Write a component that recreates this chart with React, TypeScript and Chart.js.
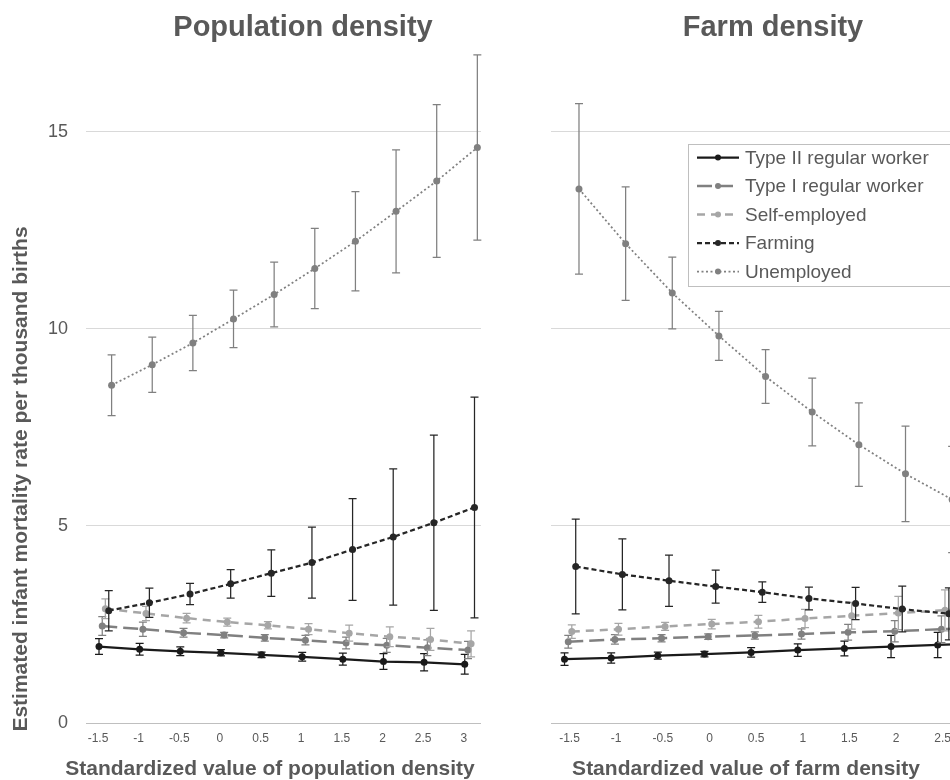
import React, { useEffect, useRef } from "react";
import { Chart, registerables } from "chart.js";

Chart.register(...registerables);

// ---------- data ----------
const xCategories = [-1.5, -1, -0.5, 0, 0.5, 1, 1.5, 2, 2.5, 3];
const xTickLabels = ["-1.5", "-1", "-0.5", "0", "0.5", "1", "1.5", "2", "2.5", "3"];
const yTickValues = [0, 5, 10, 15];
const yTickLabels = ["0", "5", "10", "15"];
const seriesNames = [
  "Type II regular worker",
  "Type I regular worker",
  "Self-employed",
  "Farming",
  "Unemployed",
];
// small horizontal shift of each series (as in the original figure)
const seriesShift = [0, 0.04, 0.078, 0.12, 0.155];

// Population density panel
const popTypeII = [1.94, 1.87, 1.82, 1.78, 1.73, 1.68, 1.62, 1.56, 1.54, 1.49];
const popTypeIIErr = [0.2, 0.15, 0.11, 0.08, 0.07, 0.11, 0.15, 0.2, 0.22, 0.25];
const popTypeI = [2.46, 2.38, 2.29, 2.23, 2.16, 2.1, 2.03, 1.97, 1.91, 1.85];
const popTypeIErr = [0.24, 0.18, 0.11, 0.07, 0.08, 0.12, 0.15, 0.18, 0.2, 0.22];
const popSelf = [2.9, 2.78, 2.66, 2.56, 2.48, 2.38, 2.28, 2.19, 2.12, 2.01];
const popSelfErr = [0.25, 0.18, 0.12, 0.1, 0.09, 0.14, 0.2, 0.25, 0.28, 0.33];
const popFarming = [2.85, 3.05, 3.27, 3.53, 3.8, 4.07, 4.4, 4.72, 5.08, 5.47];
const popFarmingErr = [0.51, 0.37, 0.27, 0.36, 0.59, 0.9, 1.29, 1.73, 2.22, 2.8];
const popUnemp = [8.57, 9.09, 9.64, 10.25, 10.87, 11.53, 12.22, 12.98, 13.75, 14.6];
const popUnempErr = [0.77, 0.7, 0.7, 0.73, 0.82, 1.02, 1.26, 1.56, 1.94, 2.35];

// Farm density panel
const farmTypeII = [1.62, 1.65, 1.71, 1.75, 1.79, 1.85, 1.89, 1.94, 1.98, 2.02];
const farmTypeIIErr = [0.16, 0.13, 0.09, 0.07, 0.12, 0.16, 0.19, 0.28, 0.32, 0.38];
const farmTypeI = [2.06, 2.12, 2.15, 2.19, 2.22, 2.26, 2.3, 2.33, 2.38, 2.42];
const farmTypeIErr = [0.16, 0.12, 0.09, 0.07, 0.09, 0.13, 0.2, 0.27, 0.34, 0.42];
const farmSelf = [2.32, 2.38, 2.45, 2.51, 2.57, 2.65, 2.72, 2.79, 2.86, 2.94];
const farmSelfErr = [0.17, 0.15, 0.1, 0.12, 0.16, 0.23, 0.34, 0.42, 0.52, 0.62];
const farmFarming = [3.97, 3.77, 3.61, 3.46, 3.32, 3.16, 3.03, 2.89, 2.77, 2.66];
const farmFarmingErr = [1.2, 0.9, 0.65, 0.42, 0.26, 0.29, 0.41, 0.58, 0.66, 0.85];
const farmUnemp = [13.55, 12.16, 10.91, 9.82, 8.79, 7.89, 7.06, 6.32, 5.67, 5.08];
const farmUnempErr = [2.16, 1.44, 0.91, 0.62, 0.68, 0.86, 1.06, 1.21, 1.35, 1.5];

// ---------- styles ----------
const FONT = "'Liberation Sans', Arial, Helvetica, sans-serif";
const TEXT = "#595959";
const seriesStyles = [
  { color: "#1a1a1a", err: "#1a1a1a", width: 2.25, dash: [] as number[], radius: 3.5 },
  { color: "#808080", err: "#808080", width: 2.5, dash: [15, 6], radius: 3.5 },
  { color: "#a6a6a6", err: "#a6a6a6", width: 2.5, dash: [8, 6], radius: 3.5 },
  { color: "#262626", err: "#262626", width: 2.25, dash: [5, 3], radius: 3.5 },
  { color: "#808080", err: "#808080", width: 1.75, dash: [2, 2.5], radius: 3.5 },
];

// ---------- plugins ----------
const errorBarPlugin = {
  id: "errorBars",
  afterDatasetDraw(chart: any, args: any) {
    const ds = chart.data.datasets[args.index];
    const errs: number[] = ds.errorBars;
    if (!errs) return;
    const meta = chart.getDatasetMeta(args.index);
    const yScale = chart.scales.y;
    const ctx = chart.ctx;
    ctx.save();
    ctx.strokeStyle = ds.errorColor;
    ctx.lineWidth = 1.25;
    ctx.setLineDash([]);
    meta.data.forEach((pt: any, i: number) => {
      const v = ds.data[i].y;
      const top = yScale.getPixelForValue(v + errs[i]);
      const bot = yScale.getPixelForValue(v - errs[i]);
      const x = pt.x;
      ctx.beginPath();
      ctx.moveTo(x, top);
      ctx.lineTo(x, bot);
      ctx.moveTo(x - 4, top);
      ctx.lineTo(x + 4, top);
      ctx.moveTo(x - 4, bot);
      ctx.lineTo(x + 4, bot);
      ctx.stroke();
    });
    ctx.restore();
  },
};

const textPlugin = {
  id: "panelText",
  afterDraw(chart: any, _args: any, opts: any) {
    const items = opts && opts.items ? opts.items : [];
    const ctx = chart.ctx;
    for (const t of items) {
      ctx.save();
      ctx.font = t.font;
      ctx.fillStyle = TEXT;
      ctx.textAlign = "center";
      ctx.textBaseline = t.baseline || "alphabetic";
      ctx.translate(t.x, t.y);
      if (t.rotate) ctx.rotate(t.rotate);
      ctx.fillText(t.text, 0, 0);
      ctx.restore();
    }
  },
};

const boxLegendPlugin = {
  id: "boxLegend",
  afterDraw(chart: any, _args: any, opts: any) {
    if (!opts || !opts.show) return;
    const ctx = chart.ctx;
    const { x, y, w, h, rowStart, rowStep } = opts;
    ctx.save();
    ctx.fillStyle = "#ffffff";
    ctx.fillRect(x, y, w, h);
    ctx.strokeStyle = "#bfbfbf";
    ctx.lineWidth = 1;
    ctx.strokeRect(x + 0.5, y + 0.5, w, h);
    chart.data.datasets.forEach((ds: any, i: number) => {
      const cy = rowStart + i * rowStep;
      const x1 = x + 9;
      const x2 = x + 51;
      ctx.strokeStyle = ds.borderColor;
      ctx.lineWidth = ds.borderWidth;
      ctx.setLineDash(ds.borderDash || []);
      ctx.beginPath();
      ctx.moveTo(x1, cy);
      ctx.lineTo(x2, cy);
      ctx.stroke();
      ctx.setLineDash([]);
      ctx.fillStyle = ds.pointBackgroundColor;
      ctx.beginPath();
      ctx.arc((x1 + x2) / 2, cy, 3, 0, Math.PI * 2);
      ctx.fill();
      ctx.fillStyle = TEXT;
      ctx.font = `19px ${FONT}`;
      ctx.textAlign = "left";
      ctx.textBaseline = "middle";
      ctx.fillText(ds.label, x + 57, cy + 1);
    });
    ctx.restore();
  },
};

function makeDatasets(values: number[][], errors: number[][]) {
  return values.map((vals, s) => {
    const st = seriesStyles[s];
    return {
      label: seriesNames[s],
      data: xCategories.map((x, i) => ({ x: x + seriesShift[s], y: vals[i] })),
      borderColor: st.color,
      backgroundColor: st.color,
      borderWidth: st.width,
      borderDash: st.dash,
      pointRadius: st.radius,
      pointBackgroundColor: st.color,
      pointBorderColor: st.color,
      pointBorderWidth: 0,
      showLine: true,
      tension: 0,
      fill: false,
      clip: false as any,
      order: 5 - s,
      errorBars: errors[s],
      errorColor: st.err,
    };
  });
}

function buildConfig(panel: "pop" | "farm"): any {
  const isPop = panel === "pop";
  const values = isPop
    ? [popTypeII, popTypeI, popSelf, popFarming, popUnemp]
    : [farmTypeII, farmTypeI, farmSelf, farmFarming, farmUnemp];
  const errors = isPop
    ? [popTypeIIErr, popTypeIErr, popSelfErr, popFarmingErr, popUnempErr]
    : [farmTypeIIErr, farmTypeIErr, farmSelfErr, farmFarmingErr, farmUnempErr];

  const textItems = isPop
    ? [
        { text: "Population density", x: 303, y: 36, font: `bold 29px ${FONT}` },
        {
          text: "Standardized value of population density",
          x: 270,
          y: 775,
          font: `bold 21px ${FONT}`,
        },
        {
          text: "Estimated infant mortality rate per thousand births",
          x: 21,
          y: 479,
          rotate: -Math.PI / 2,
          baseline: "middle",
          font: `bold 21px ${FONT}`,
        },
      ]
    : [
        { text: "Farm density", x: 233, y: 36, font: `bold 29px ${FONT}` },
        {
          text: "Standardized value of farm density",
          x: 206,
          y: 775,
          font: `bold 21px ${FONT}`,
        },
      ];

  return {
    type: "line",
    data: { datasets: makeDatasets(values, errors) },
    plugins: [errorBarPlugin, textPlugin, boxLegendPlugin],
    options: {
      responsive: false,
      animation: false,
      events: [],
      layout: {
        padding: isPop
          ? { left: 0, right: 59, top: 45, bottom: 0 }
          : { left: 11, right: 17, top: 45, bottom: 0 },
      },
      scales: {
        x: {
          type: "linear",
          min: isPop ? -1.66 : -1.645,
          max: 3.2,
          afterBuildTicks: (s: any) => {
            s.ticks = xCategories.map((v) => ({ value: v }));
          },
          afterFit: (s: any) => {
            s.height = 57;
          },
          grid: { display: false, drawTicks: false },
          border: { display: false },
          ticks: {
            autoSkip: false,
            maxRotation: 0,
            minRotation: 0,
            padding: 8,
            labelOffset: isPop ? -1 : 5,
            color: TEXT,
            font: { family: FONT, size: 12 },
            callback: (_v: any, i: number) => xTickLabels[i],
          },
        },
        y: {
          type: "linear",
          min: 0,
          max: 17.2,
          afterBuildTicks: (s: any) => {
            s.ticks = yTickValues.map((v) => ({ value: v }));
          },
          afterFit: (s: any) => {
            s.width = isPop ? 86 : 0;
          },
          grid: {
            drawTicks: false,
            lineWidth: 1,
            color: (c: any) => (c.tick && c.tick.value === 0 ? "#bfbfbf" : "#d9d9d9"),
          },
          border: { display: false },
          ticks: {
            display: isPop,
            padding: 18,
            color: TEXT,
            font: { family: FONT, size: 18 },
            callback: (_v: any, i: number) => yTickLabels[i],
          },
        },
      },
      plugins: {
        legend: { display: false },
        tooltip: { enabled: false },
        title: { display: false },
        panelText: { items: textItems },
        boxLegend: isPop
          ? { show: false }
          : { show: true, x: 148, y: 144, w: 320, h: 142, rowStart: 157.5, rowStep: 28.5 },
      },
    },
  };
}

export default function App() {
  const leftRef = useRef<HTMLCanvasElement>(null);
  const rightRef = useRef<HTMLCanvasElement>(null);

  useEffect(() => {
    const c1 = new Chart(leftRef.current as HTMLCanvasElement, buildConfig("pop"));
    const c2 = new Chart(rightRef.current as HTMLCanvasElement, buildConfig("farm"));
    return () => {
      c1.destroy();
      c2.destroy();
    };
  }, []);

  return (
    <div
      style={{
        position: "fixed",
        left: 0,
        top: 0,
        width: 950,
        height: 780,
        overflow: "hidden",
        background: "#ffffff",
      }}
    >
      <canvas
        ref={leftRef}
        width={540}
        height={780}
        style={{ position: "absolute", left: 0, top: 0, width: 540, height: 780 }}
      />
      <canvas
        ref={rightRef}
        width={480}
        height={780}
        style={{ position: "absolute", left: 540, top: 0, width: 480, height: 780 }}
      />
    </div>
  );
}
